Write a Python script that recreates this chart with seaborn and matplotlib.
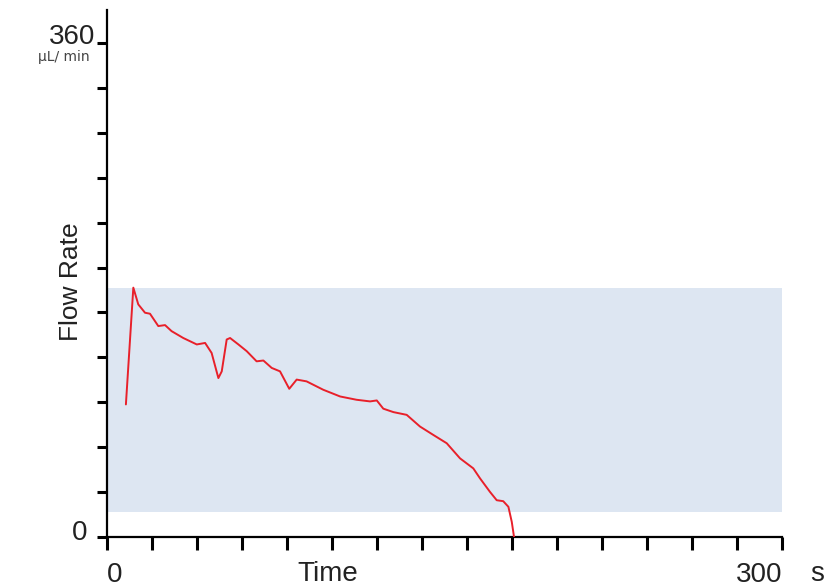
import numpy as np
import pandas as pd
import matplotlib
matplotlib.use("Agg")
import matplotlib.pyplot as plt
import seaborn as sns

# flow trace (seconds, uL/min)
time_s = [8.4, 11.7, 13.9, 16.9, 19.1, 22.8, 25.8, 28.7, 33.9, 39.9, 43.6, 46.5,
          49.5, 51.0, 53.2, 54.7, 58.4, 62.1, 66.5, 69.5, 73.2, 76.9, 81.0, 84.3,
          88.7, 96.1, 103.6, 110.9, 116.9, 119.9, 122.8, 127.3, 133.2, 139.1,
          145.0, 151.0, 156.9, 162.8, 165.8, 170.2, 173.2, 176.1, 178.4, 179.9, 180.9]
flow = [96.6, 181.7, 169.5, 163.4, 162.7, 153.7, 154.4, 150.0, 145.0, 140.3, 141.4, 134.1,
        115.8, 120.7, 143.9, 145.0, 140.3, 135.4, 128.0, 128.6, 123.2, 120.7, 108.0, 114.7,
        113.4, 107.3, 102.4, 100.0, 98.8, 99.5, 93.5, 91.0, 89.0, 80.5,
        74.4, 68.3, 57.3, 50.0, 42.7, 32.9, 26.8, 26.1, 22.0, 11.0, 0.0]

band_low, band_high = 18, 181.5
x_ticks = list(range(0, 301, 20))
x_tick_labels = ["0"] + [""] * 14 + ["300"]
y_ticks = list(np.linspace(0, 360, 12))
y_min_label, y_max_label = "0", "360"

df = pd.DataFrame({"Time": time_s, "Flow": flow})

sns.set_style("ticks")
plt.rcParams["font.family"] = ["Liberation Sans", "DejaVu Sans"]

W, H = 834, 588
fig = plt.figure(figsize=(W / 100, H / 100), dpi=100)
ax = fig.add_axes([107 / W, 1 - 537 / H, (782 - 107) / W, (537 - 10) / H])

ax.axhspan(band_low, band_high, color="#dde6f2", lw=0, zorder=0)
sns.lineplot(data=df, x="Time", y="Flow", ax=ax, color="#e8202a", lw=1.4,
             estimator=None, sort=False, zorder=3)

ax.set_xlim(0, 300)
ax.set_ylim(0, 384)
for s in ["top", "right"]:
    ax.spines[s].set_visible(False)
for s in ["left", "bottom"]:
    ax.spines[s].set_linewidth(1.6)
    ax.spines[s].set_color("black")

ax.set_xticks(x_ticks)
ax.set_xticklabels(x_tick_labels, fontsize=20, color="#222222")
ax.set_yticks(y_ticks)
ax.set_yticklabels([])
ax.tick_params(axis="x", length=9, width=2.2, pad=9, color="black")
ax.tick_params(axis="y", length=7, width=2.2, color="black")
xl = ax.get_xticklabels()
xl[0].set_ha("left")
xl[-1].set_ha("right")

# y end labels sit a little above their ticks, as in the reference
ytr = ax.get_yaxis_transform()
ax.annotate(y_max_label, xy=(0, y_ticks[-1]), xycoords=ytr, xytext=(-8.6, 4.3),
            textcoords="offset points", ha="right", va="center", fontsize=20, color="#222222")
ax.annotate(y_min_label, xy=(0, y_ticks[0]), xycoords=ytr, xytext=(-14.4, 2.9),
            textcoords="offset points", ha="right", va="center", fontsize=20, color="#222222")

ax.set_xlabel("Time", fontsize=20, color="#222222")
ax.xaxis.set_label_coords((328 - 107) / (782 - 107), (537 - 581) / 527)
ax.xaxis.label.set_va("baseline")
ax.set_ylabel("Flow Rate", fontsize=19, color="#222222")
ax.yaxis.set_label_coords(-0.035, (537 - 282) / 527)

fig.text(817 / W, 1 - 581 / H, "s", fontsize=20, ha="center", va="baseline", color="#222222")
fig.text(90 / W, 1 - 57 / H, "μL/ min", fontsize=10, ha="right", va="center",
         color="#444444", family=["DejaVu Sans"])

fig.savefig("out.png", dpi=100)
